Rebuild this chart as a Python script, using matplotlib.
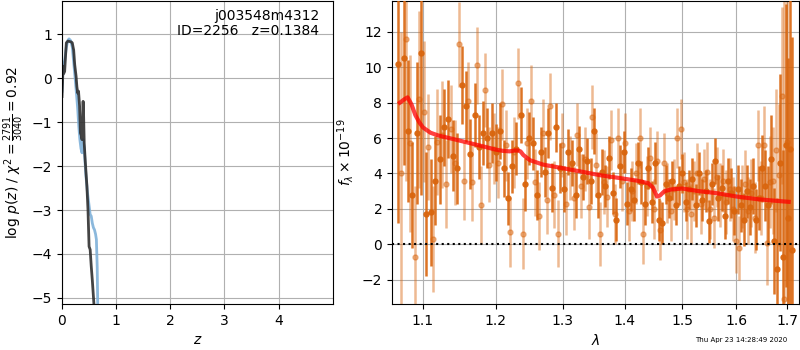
import matplotlib
matplotlib.use("Agg")
import matplotlib.pyplot as plt
import numpy as np

# ---- left panel: p(z) curves ----
z_black = [0.0, 0.010, 0.018, 0.030, 0.049, 0.065, 0.080, 0.110, 0.140, 0.170, 0.190, 0.205, 0.215, 0.235,
           0.260, 0.275, 0.290, 0.305, 0.325, 0.340, 0.355, 0.370, 0.380, 0.390, 0.400, 0.410, 0.430,
           0.460, 0.480, 0.500, 0.520, 0.540, 0.560, 0.590]
lp_black = [-0.42, -0.10, 0.27, 0.10, 0.15, 0.50, 0.80, 0.84, 0.83, 0.82, 0.80, 0.70, 0.64, 0.30,
            0.04, -0.20, -0.34, -0.30, -0.64, -1.25, -1.30, -1.40, -1.00, -0.53, -0.90, -1.48, -1.90,
            -2.46, -3.00, -3.83, -3.90, -4.28, -4.60, -5.15]
z_blue = [0.0, 0.015, 0.030, 0.050, 0.080, 0.110, 0.130, 0.160, 0.190, 0.220, 0.245, 0.270, 0.290,
          0.310, 0.330, 0.350, 0.370, 0.390, 0.410, 0.440, 0.470, 0.500, 0.520, 0.540, 0.560, 0.580,
          0.600, 0.620, 0.635, 0.650, 0.660]
lp_blue = [-0.30, 0.10, 0.30, 0.40, 0.70, 0.86, 0.89, 0.85, 0.70, 0.30, -0.04, -0.40, -0.70,
           -1.10, -1.40, -1.60, -1.70, -1.40, -1.60, -2.20, -2.60, -2.90, -3.10, -3.14, -3.30, -3.40,
           -3.45, -3.55, -3.67, -4.30, -5.20]

# ---- right panel: spectrum ----
lam_dark = [1.068, 1.075, 1.081, 1.086, 1.092, 1.098, 1.104, 1.110, 1.116, 1.122, 1.128, 1.134, 1.140,
            1.146, 1.152, 1.158, 1.164, 1.170, 1.176, 1.182, 1.188, 1.194, 1.200, 1.206, 1.212, 1.218,
            1.224, 1.230, 1.236, 1.242, 1.248, 1.254, 1.260, 1.266, 1.272, 1.278, 1.284, 1.290, 1.296,
            1.302, 1.308, 1.314, 1.320, 1.326, 1.332, 1.338, 1.344, 1.350, 1.356, 1.362, 1.368, 1.374,
            1.380, 1.386, 1.392, 1.398, 1.404, 1.410, 1.416, 1.422, 1.428, 1.434, 1.440, 1.446, 1.452,
            1.458, 1.464, 1.470, 1.476, 1.482, 1.488, 1.494, 1.500, 1.506, 1.512, 1.518, 1.524, 1.530,
            1.536, 1.542, 1.548, 1.554, 1.560, 1.566, 1.572, 1.578, 1.584, 1.590, 1.596, 1.602, 1.608,
            1.614, 1.620, 1.626, 1.632, 1.638, 1.644, 1.650, 1.656, 1.662, 1.668, 1.674, 1.680, 1.686,
            1.692, 1.697, 1.702, 1.706, 1.710]
f_dark = [10.2, 10.5, 6.4, 2.8, 6.3, 10.8, 1.7, 1.8, 3.6, 4.8, 6.6, 7.1, 5.0,
          4.3, 9.0, 7.8, 5.1, 7.3, 5.5, 6.3, 6.0, 6.3, 5.2, 6.4, 4.3, 2.6,
          4.4, 5.4, 7.3, 3.4, 6.0, 5.7, 2.8, 5.2, 4.1, 6.3, 3.2, 6.6, 4.3,
          3.1, 5.2, 4.6, 2.8, 5.4, 3.8, 4.7, 3.6, 6.4, 2.8, 4.1, 3.3, 4.9,
          2.9, 1.4, 4.4, 5.2, 2.3, 3.1, 2.5, 4.6, 3.5, 2.3, 4.3, 2.4, 4.6,
          1.4, 1.2, 3.4, 2.6, 3.6, 2.2, 3.3, 4.0, 2.4, 3.1, 3.7, 2.2, 4.0,
          2.5, 3.0, 1.3, 3.4, 4.7, 2.6, 3.2, 1.6, 3.6, 2.9, 1.9, 3.1, 2.2,
          1.4, 3.0, 2.1, 3.3, 1.4, 2.6, 4.3, 3.3, 2.2, 4.8, 0.2, -1.4, 4.6,
          -0.7, 5.6, 1.5, 5.4, -0.3]
e_dark = [9.0, 6.0, 4.0, 3.0, 4.0, 8.0, 3.5, 3.0, 2.5, 2.5, 2.2, 2.2, 2.0,
          2.0, 2.2, 2.0, 2.0, 1.8, 1.8, 1.8, 1.7, 1.7, 1.6, 1.6, 1.6, 1.5,
          1.5, 1.5, 1.6, 1.5, 1.5, 1.5, 1.4, 1.4, 1.4, 1.4, 1.4, 1.4, 1.4,
          1.3, 1.3, 1.3, 1.3, 1.3, 1.3, 1.3, 1.3, 1.3, 1.3, 1.3, 1.2, 1.2,
          1.2, 1.2, 1.2, 1.2, 1.2, 1.2, 1.2, 1.2, 1.2, 1.2, 1.2, 1.2, 1.2,
          1.2, 1.2, 1.1, 1.1, 1.1, 1.1, 1.1, 1.1, 1.1, 1.1, 1.2, 1.2, 1.2,
          1.2, 1.2, 1.2, 1.2, 1.3, 1.3, 1.3, 1.3, 1.3, 1.4, 1.4, 1.4, 1.5,
          1.5, 1.5, 1.6, 1.6, 1.7, 1.8, 1.9, 2.0, 2.2, 2.5, 3.0, 4.0, 5.0,
          6.0, 8.0, 9.0, 10.0, 12.0]

lam_light = [1.071, 1.078, 1.083, 1.089, 1.095, 1.101, 1.107, 1.113, 1.119, 1.125, 1.131, 1.137, 1.143,
             1.149, 1.155, 1.161, 1.167, 1.173, 1.179, 1.185, 1.191, 1.197, 1.203, 1.209, 1.215, 1.221,
             1.227, 1.233, 1.239, 1.245, 1.251, 1.257, 1.263, 1.269, 1.275, 1.281, 1.287, 1.293, 1.299,
             1.305, 1.311, 1.317, 1.323, 1.329, 1.335, 1.341, 1.347, 1.353, 1.359, 1.365, 1.371, 1.377,
             1.383, 1.389, 1.395, 1.401, 1.407, 1.413, 1.419, 1.425, 1.431, 1.437, 1.443, 1.449, 1.455,
             1.461, 1.467, 1.473, 1.479, 1.485, 1.491, 1.497, 1.503, 1.509, 1.515, 1.521, 1.527, 1.533,
             1.539, 1.545, 1.551, 1.557, 1.563, 1.569, 1.575, 1.581, 1.587, 1.593, 1.599, 1.605, 1.611,
             1.617, 1.623, 1.629, 1.635, 1.641, 1.647, 1.653, 1.659, 1.665, 1.671, 1.677, 1.683, 1.689,
             1.694, 1.699]
f_light = [4.0, 11.6, 5.7, -0.7, 8.2, 7.5, 5.5, 0.3, 5.8, 6.2, 3.4, 6.5, 4.6,
           11.3, 3.6, 8.1, 3.5, 10.1, 2.2, 8.7, 4.5, 5.4, 4.6, 7.9, 5.6, 0.7,
           5.2, 9.1, 0.6, 5.7, 8.1, 3.5, 1.6, 6.3, 2.5, 7.8, 2.8, 0.6, 5.6,
           2.3, 4.3, 2.6, 6.2, 3.3, 4.8, 2.1, 7.2, 4.5, 0.6, 3.5, 2.7, 5.9,
           1.7, 6.0, 3.6, 5.7, 1.9, 3.0, 4.0, 6.0, 0.6, 3.3, 4.9, 2.0, 4.7,
           0.8, 4.6, 2.9, 1.9, 3.1, 6.0, 6.5, 3.5, 2.0, 1.7, 3.0, 4.0, 2.3,
           3.7, 4.1, 2.0, 1.5, 3.8, 2.8, 3.6, 2.4, 3.1, 2.0, 0.2, -0.2, 2.7,
           3.4, 1.9, 2.9, 1.5, 5.6, 2.6, 5.6, 0.1, 3.5, 3.6, 5.3, 3.9, 8.4,
           -3.1, 5.8]
e_light = [8.0, 8.0, 5.0, 4.0, 5.0, 4.0, 3.0, 3.0, 3.0, 3.0, 2.5, 2.5, 2.4,
           2.4, 2.2, 2.2, 2.2, 2.2, 2.2, 2.1, 2.1, 2.0, 2.0, 2.0, 2.0, 2.0,
           2.0, 2.0, 2.0, 2.0, 2.0, 1.9, 1.9, 1.9, 1.9, 1.9, 1.9, 1.9, 1.8,
           1.8, 1.8, 1.8, 1.8, 1.8, 1.8, 1.8, 1.8, 1.8, 1.8, 1.8, 1.7, 1.7,
           1.7, 1.7, 1.7, 1.7, 1.7, 1.7, 1.7, 1.7, 1.7, 1.7, 1.7, 1.7, 1.7,
           1.7, 1.7, 1.7, 1.7, 1.7, 1.7, 1.7, 1.7, 1.7, 1.7, 1.7, 1.7, 1.7,
           1.7, 1.7, 1.7, 1.7, 1.7, 1.8, 1.8, 1.8, 1.8, 1.8, 1.8, 1.8, 1.8,
           1.9, 1.9, 1.9, 2.0, 2.0, 2.1, 2.2, 2.4, 2.6, 3.0, 3.5, 4.0, 5.0,
           17.0, 9.0]

lam_model = [1.070, 1.076, 1.080, 1.085, 1.090, 1.095, 1.100, 1.110, 1.120, 1.140, 1.160, 1.180, 1.200,
             1.210, 1.220, 1.228, 1.232, 1.236, 1.240, 1.250, 1.270, 1.300, 1.330, 1.360, 1.390, 1.420,
             1.440, 1.448, 1.455, 1.460, 1.468, 1.480, 1.500, 1.530, 1.560, 1.600, 1.640, 1.680, 1.703]
f_model = [8.0, 8.2, 8.3, 7.9, 7.3, 6.9, 6.6, 6.3, 6.15, 5.95, 5.75, 5.55, 5.35,
           5.28, 5.25, 5.3, 5.3, 5.25, 5.05, 4.75, 4.5, 4.3, 4.1, 3.9, 3.75, 3.6,
           3.45, 3.2, 2.7, 2.75, 3.0, 3.1, 3.15, 3.0, 2.9, 2.7, 2.55, 2.45, 2.4]

lam_ticks = [1.1, 1.2, 1.3, 1.4, 1.5, 1.6, 1.7]
lam_ticklabels = ["1.1", "1.2", "1.3", "1.4", "1.5", "1.6", "1.7"]

fig = plt.figure(figsize=(8, 3.5), dpi=100)
ax1 = fig.add_axes([0.0775, 0.131, 0.3385, 0.866])
ax2 = fig.add_axes([0.49, 0.131, 0.509, 0.866])

ax1.plot(z_blue, lp_blue, color='#7fb1d9', lw=2, alpha=0.9)
ax1.plot(z_black, lp_black, color='#303030', lw=2, alpha=0.9)
ax1.set_xlim(0, 5.0)
ax1.set_ylim(-5.14, 1.75)
ax1.set_xticks([0, 1, 2, 3, 4])
ax1.set_yticks([-5, -4, -3, -2, -1, 0, 1])
ax1.grid(True)
ax1.set_axisbelow(True)
ax1.set_xlabel('$z$')
ax1.set_ylabel(r'log $p(z)$ / $\chi^2=\frac{2791}{3040}=0.92$')
ax1.text(0.95, 0.975, 'j003548m4312\nID=2256   z=0.1384', transform=ax1.transAxes,
         ha='right', va='top', fontsize=10, linespacing=1.1)

col = '#d9650d'
ax2.errorbar(lam_light, f_light, yerr=e_light, fmt='o', color=col, alpha=0.45,
             markersize=3.6, elinewidth=1.8, capsize=0, zorder=2)
ax2.errorbar(lam_dark, f_dark, yerr=e_dark, fmt='o', color=col, alpha=0.9,
             markersize=3.6, elinewidth=1.8, capsize=0, zorder=3)
ax2.plot(lam_model, f_model, color='red', lw=3, alpha=0.75, zorder=5)
ax2.axhline(0, color='k', ls=':', lw=1.5, zorder=4)
ax2.set_xscale('log')
ax2.set_xlim(1.060, 1.7246)
ax2.set_ylim(-3.38, 13.74)
ax2.set_xticks(lam_ticks)
ax2.set_xticklabels(lam_ticklabels)
ax2.xaxis.set_minor_locator(matplotlib.ticker.NullLocator())
ax2.set_yticks([-2, 0, 2, 4, 6, 8, 10, 12])
ax2.grid(True)
ax2.set_axisbelow(True)
ax2.set_xlabel(r'$\lambda$')
ax2.set_ylabel(r'$f_\lambda \times 10^{-19}$')

fig.text(0.984, 0.028, 'Thu Apr 23 14:28:49 2020', ha='right', va='center', fontsize=5)

fig.savefig('out.png', dpi=100)
